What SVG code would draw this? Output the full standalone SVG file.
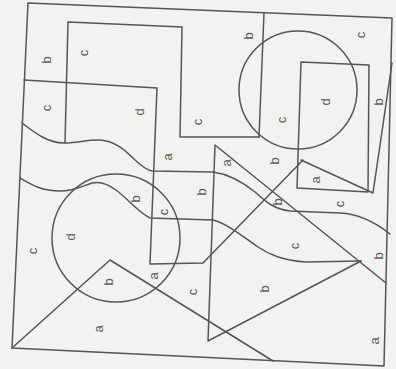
<svg xmlns="http://www.w3.org/2000/svg" width="396" height="369" viewBox="0 0 396 369">
<style>
.ln{fill:none;stroke:#555;stroke-width:1.5;stroke-linejoin:round;stroke-linecap:round}
.lb{font-family:"Liberation Sans",Arial,sans-serif;font-size:13px;fill:#5a5a5a;text-anchor:middle;dominant-baseline:central}
</style>
<rect width="396" height="369" fill="#f2f2f1"/>
<g id="frame">
<polygon class="ln" points="28,3 392,18 384,366 12,348"/>
</g>
<g id="connectors">
<path id="top-left-rect" class="ln" d="M65,143 L68,22 L182,27 L180,137 L259,137"/>
<path id="top-divider" class="ln" d="M264,13 L259,137"/>
<path id="left-h" class="ln" d="M24,80 L157,88 L150,264 L203,263 L303,160"/>
<circle id="circle-top" class="ln" cx="298" cy="90" r="59"/>
<path id="rect-right" class="ln" d="M301,62 L369,65 L368,192 L297,188 Z"/>
<path id="small-tri" class="ln" d="M301,160 L373,193 L392,63"/>
<path id="wave-a" class="ln" d="M22,123 C35,133 48,143 64,143 C80,143 88,139 100,140 C115,141 125,150 135,160 C142,166 146,170 152,171 L213,172 C228,174 240,180 255,192 C266,202 274,209 290,211 L340,213 C360,214 375,222 390,234"/>
<path id="wave-b" class="ln" d="M20,178 C32,185 42,191 60,191 C75,191 82,186 92,183 C100,181 108,184 116,190 C128,199 138,212 150,218 L213,220 C228,224 242,236 258,247 C270,255 282,260 305,262 L361,261"/>
<circle id="circle-left" class="ln" cx="116" cy="238" r="64"/>
<path id="big-tri" class="ln" d="M386,283 L215,145 L208,341 L361,261"/>
<path id="low-tri" class="ln" d="M12,348 L110,260 L273,361"/>
</g>
<g id="labels">
<text class="lb" transform="translate(46,60) rotate(-90)">b</text>
<text class="lb" transform="translate(83,53) rotate(-90)">c</text>
<text class="lb" transform="translate(46,108) rotate(-90)">c</text>
<text class="lb" transform="translate(139,112) rotate(-90)">d</text>
<text class="lb" transform="translate(197,122) rotate(-90)">c</text>
<text class="lb" transform="translate(248,36) rotate(-90)">b</text>
<text class="lb" transform="translate(360,35) rotate(-90)">c</text>
<text class="lb" transform="translate(325,102) rotate(-90)">d</text>
<text class="lb" transform="translate(281,120) rotate(-90)">c</text>
<text class="lb" transform="translate(378,102) rotate(-90)">b</text>
<text class="lb" transform="translate(167,157) rotate(-90)">a</text>
<text class="lb" transform="translate(226,163) rotate(-90)">a</text>
<text class="lb" transform="translate(274,161) rotate(-90)">b</text>
<text class="lb" transform="translate(315,180) rotate(-90)">a</text>
<text class="lb" transform="translate(135,199) rotate(-90)">b</text>
<text class="lb" transform="translate(163,212) rotate(-90)">c</text>
<text class="lb" transform="translate(201,192) rotate(-90)">b</text>
<text class="lb" transform="translate(277,202) rotate(-90)">b</text>
<text class="lb" transform="translate(339,204) rotate(-90)">c</text>
<text class="lb" transform="translate(70,237) rotate(-90)">d</text>
<text class="lb" transform="translate(32,251) rotate(-90)">c</text>
<text class="lb" transform="translate(294,246) rotate(-90)">c</text>
<text class="lb" transform="translate(378,256) rotate(-90)">b</text>
<text class="lb" transform="translate(108,282) rotate(-90)">b</text>
<text class="lb" transform="translate(153,276) rotate(-90)">a</text>
<text class="lb" transform="translate(192,292) rotate(-90)">c</text>
<text class="lb" transform="translate(264,289) rotate(-90)">b</text>
<text class="lb" transform="translate(98,329) rotate(-90)">a</text>
<text class="lb" transform="translate(374,341) rotate(-90)">a</text>
</g>
</svg>
